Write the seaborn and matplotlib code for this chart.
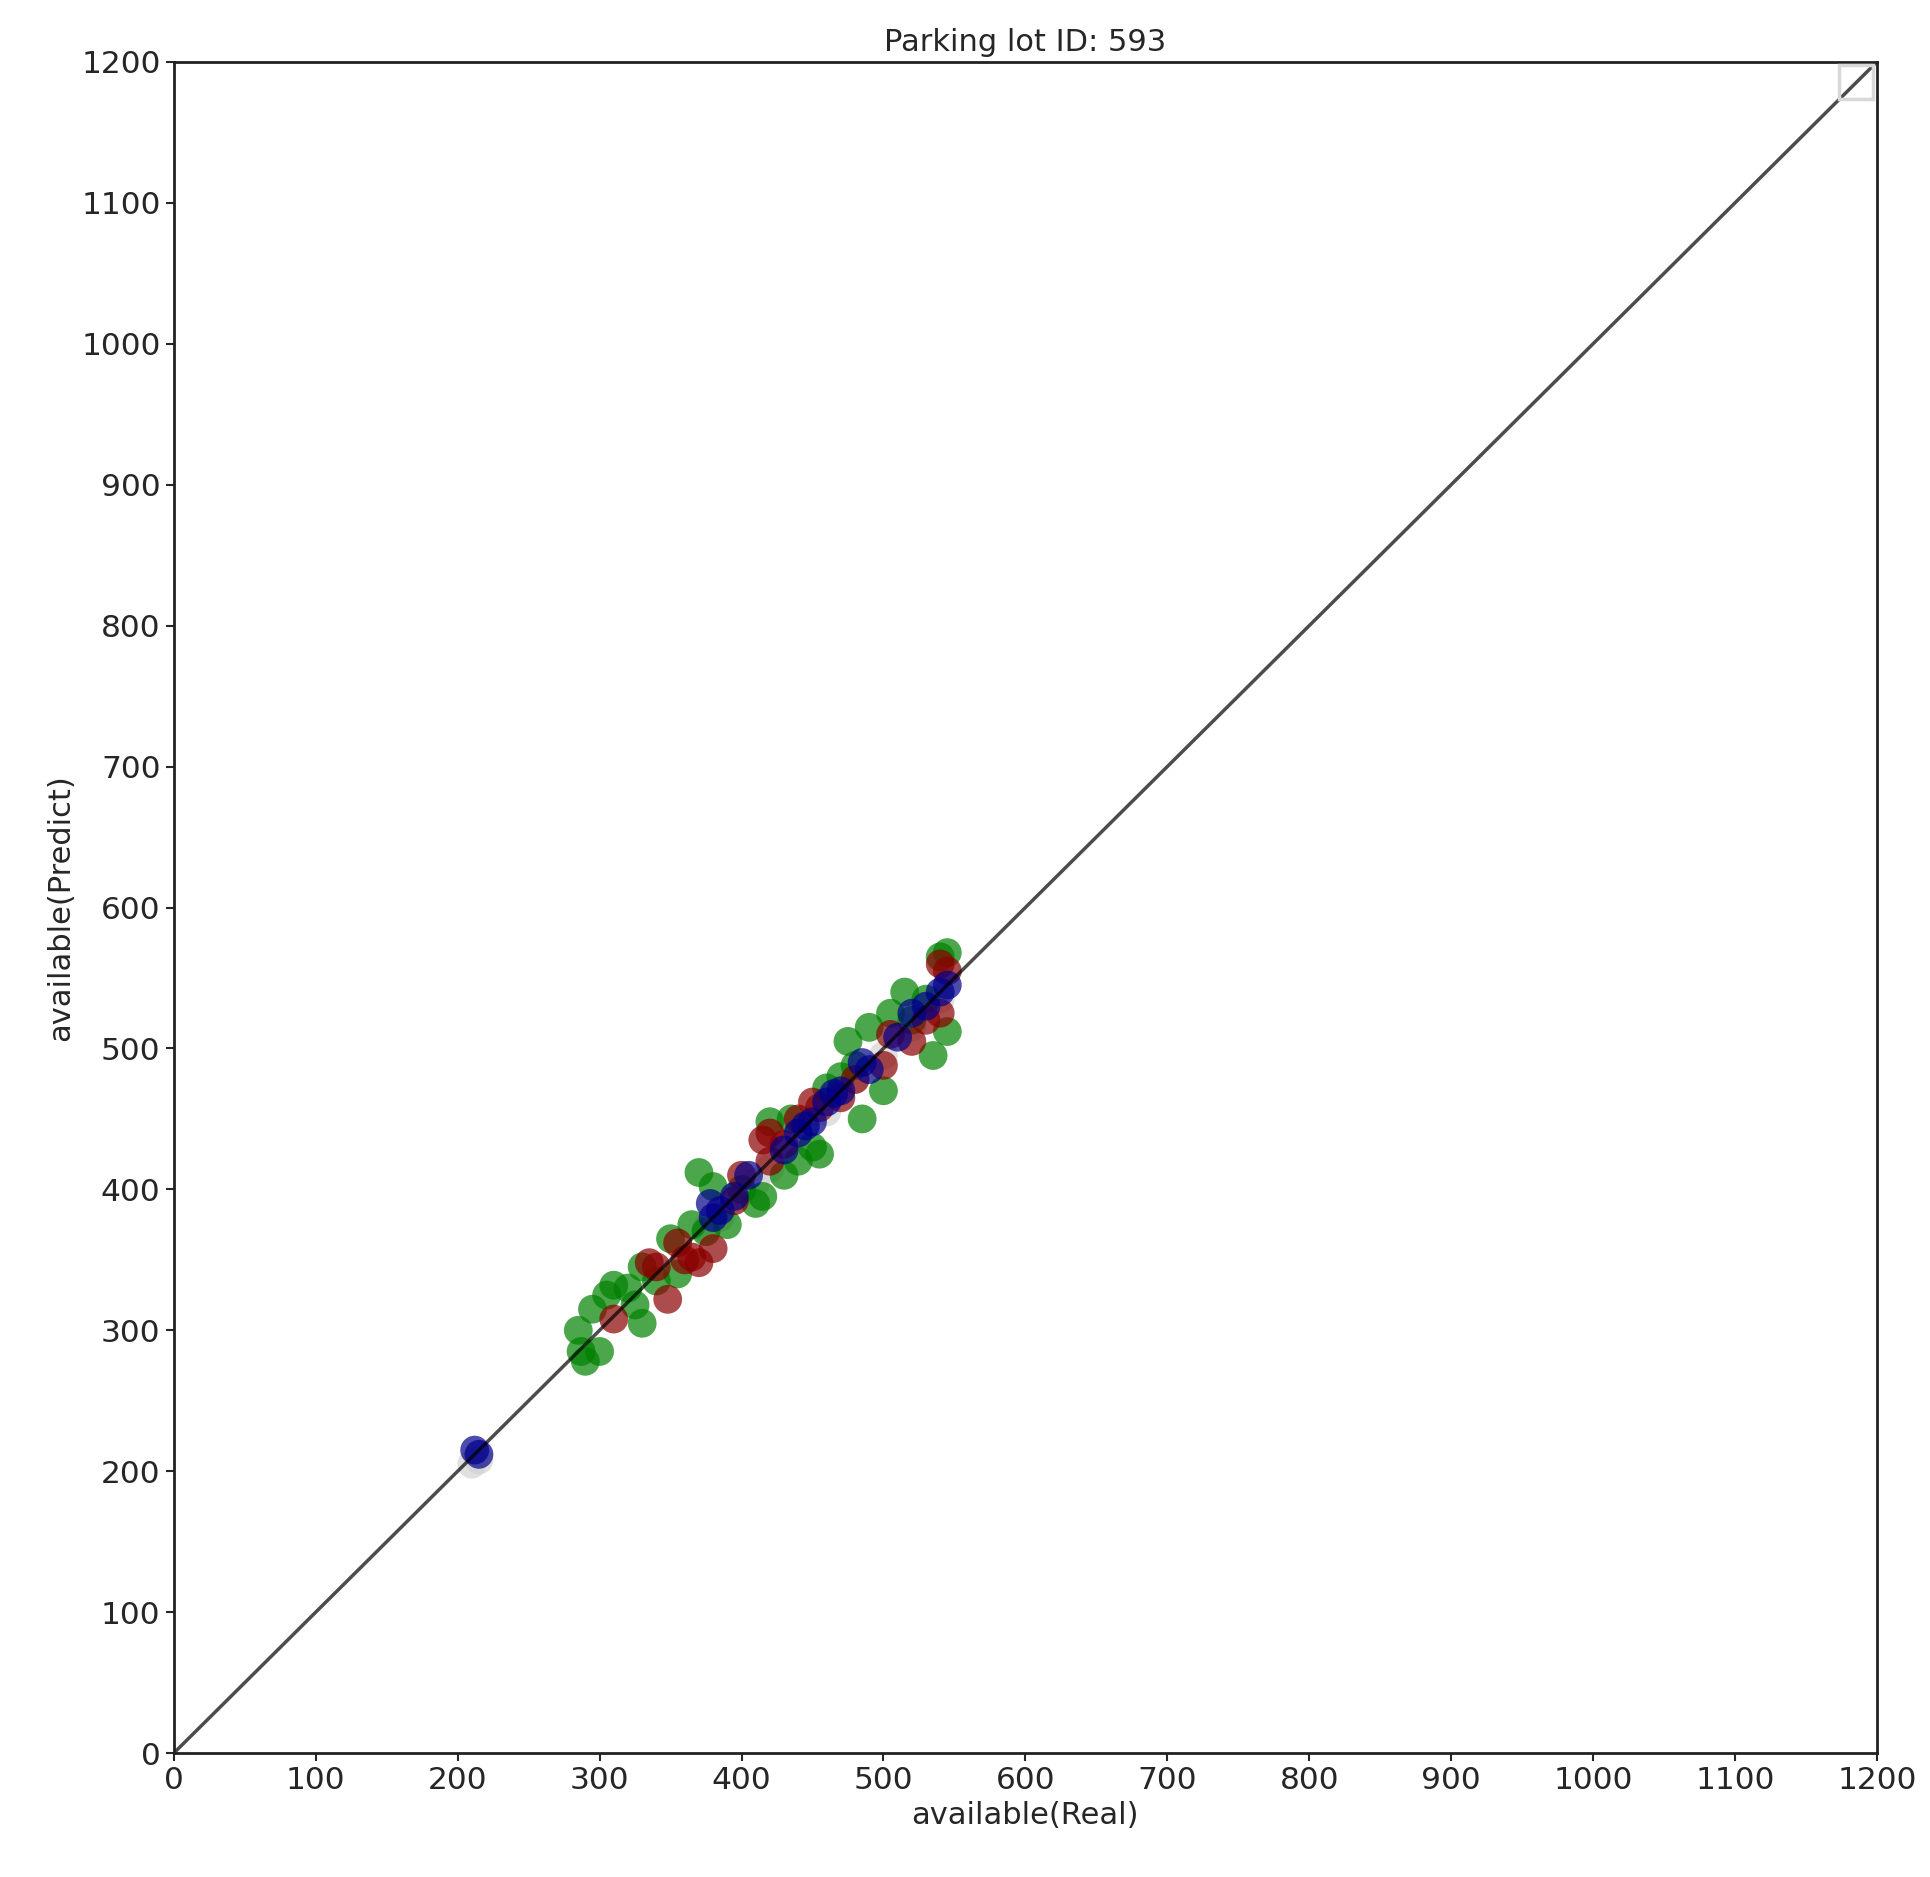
import matplotlib
matplotlib.use("Agg")
import matplotlib.pyplot as plt
import seaborn as sns
import pandas as pd
from matplotlib.lines import Line2D

# values (real, predict)
grey_real = [210, 215, 375, 385, 400, 410, 420, 440, 460, 480, 500, 520, 540]
grey_pred = [205, 208, 372, 380, 398, 405, 415, 438, 455, 478, 495, 515, 535]

green_real = [285, 287, 290, 295, 300, 305, 310, 320, 325, 330, 330, 340, 350, 355, 365, 370,
              375, 380, 390, 400, 410, 415, 420, 430, 435, 440, 450, 455, 460, 470, 475, 480,
              485, 490, 500, 505, 515, 520, 530, 535, 540, 545, 545]
green_pred = [300, 285, 278, 315, 285, 325, 332, 330, 318, 305, 345, 335, 365, 340, 375, 412,
              370, 402, 375, 400, 390, 395, 448, 410, 450, 420, 430, 425, 472, 480, 505, 488,
              450, 515, 470, 525, 540, 520, 535, 495, 565, 512, 568]

red_real = [310, 335, 340, 348, 355, 360, 365, 370, 380, 395, 400, 415, 420, 420, 430, 440,
            450, 455, 470, 480, 500, 505, 520, 530, 540, 540, 545]
red_pred = [308, 348, 345, 322, 362, 350, 352, 348, 358, 392, 410, 435, 440, 420, 432, 450,
            462, 458, 465, 478, 488, 510, 505, 520, 560, 525, 555]

blue_real = [212, 215, 378, 380, 385, 395, 405, 430, 440, 445, 450, 460, 465, 470, 485, 490,
             510, 520, 530, 540, 545]
blue_pred = [215, 212, 390, 380, 385, 395, 410, 428, 440, 445, 448, 462, 468, 470, 490, 485,
             508, 525, 530, 540, 545]

diag = [0, 1200]
ticks = list(range(0, 1201, 100))

sns.set_style("white")
plt.rcParams['font.family'] = ['DejaVu Sans']

fig, ax = plt.subplots(figsize=(19.31, 18.77), dpi=100)
fig.subplots_adjust(left=0.09, right=0.972, bottom=0.066, top=0.967)

series = [
    (grey_real, grey_pred, "lightgrey"),
    (green_real, green_pred, "green"),
    (red_real, red_pred, "darkred"),
    (blue_real, blue_pred, "darkblue"),
]
for xs, ys, col in series:
    df = pd.DataFrame({"real": xs, "pred": ys})
    sns.scatterplot(data=df, x="real", y="pred", color=col, alpha=0.7, s=430,
                    edgecolor="none", ax=ax)

sns.lineplot(x=diag, y=diag, color="black", alpha=0.7, linewidth=2.5, ax=ax)

ax.set_xlim(0, 1200)
ax.set_ylim(0, 1200)
ax.set_xticks(ticks)
ax.set_yticks(ticks)
ax.tick_params(labelsize=22.5, length=6, width=1.5, direction="out", bottom=True, left=True)
for sp in ax.spines.values():
    sp.set_linewidth(2)
    sp.set_color("#222222")
ax.set_xlabel("available(Real)", fontsize=22)
ax.set_ylabel("available(Predict)", fontsize=22)
ax.set_title("Parking lot ID: 593", fontsize=22, pad=8)

handle = Line2D([], [], marker="s", linestyle="none", markersize=24, markeredgewidth=2.5,
                markerfacecolor="none", markeredgecolor="#d8d8d8")
ax.legend([handle], [""], loc="upper right", frameon=False, handletextpad=0,
          borderaxespad=0.6, handlelength=1.0)

fig.savefig("out.png", dpi=100)
